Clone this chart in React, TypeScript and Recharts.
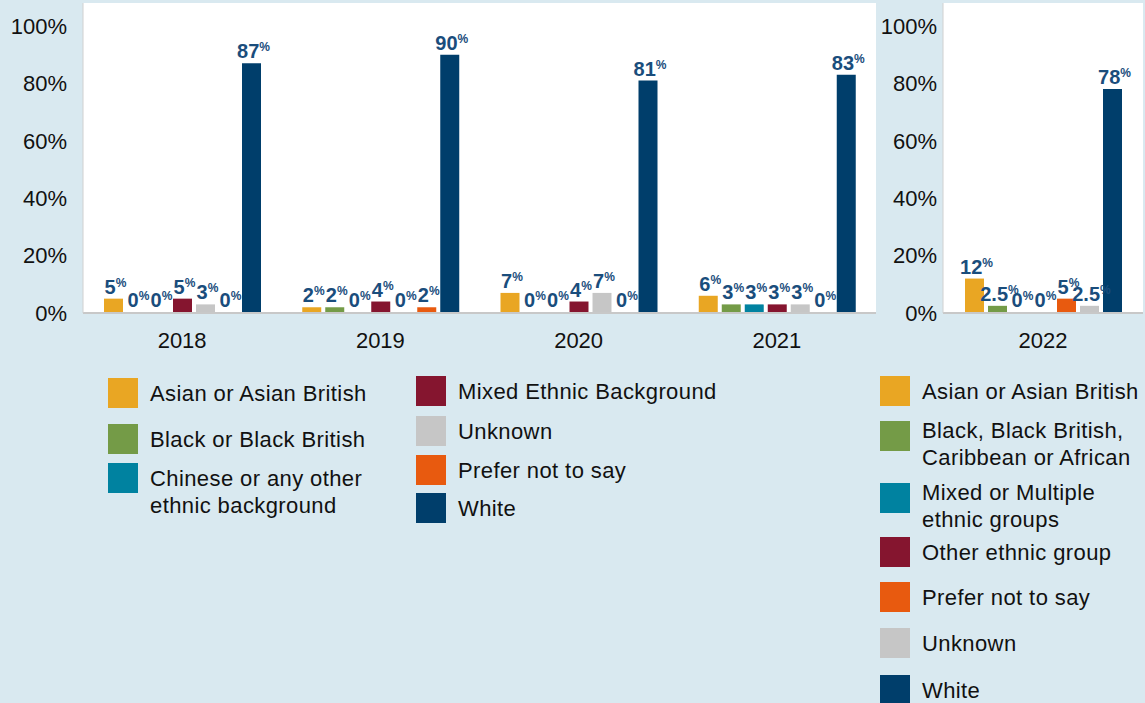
import { BarChart, Bar, XAxis, YAxis, CartesianGrid, LabelList } from 'recharts'

// 2018–2021 survey (old categories)
const YEARS = ['2018', '2019', '2020', '2021']
const ASIAN = [5, 2, 7, 6]
const BLACK = [0, 2, 0, 3]
const CHINESE = [0, 0, 0, 3]
const MIXED = [5, 4, 4, 3]
const UNKNOWN = [3, 0, 7, 3]
const PREFER = [0, 2, 0, 0]
const WHITE = [87, 90, 81, 83]

// 2022 survey (new categories)
const YEARS_22 = ['2022']
const ASIAN_22 = [12]
const BLACK_22 = [2.5]
const MULTI_22 = [0]
const OTHER_22 = [0]
const PREFER_22 = [5]
const UNKNOWN_22 = [2.5]
const WHITE_22 = [78]

const Y_TICKS = [0, 20, 40, 60, 80, 100]

const LEFT_KEYS = ['asian', 'black', 'chinese', 'mixed', 'unknown', 'prefer', 'white']
const LEFT_NAMES = [
  'Asian or Asian British',
  'Black or Black British',
  'Chinese or any other ethnic background',
  'Mixed Ethnic Background',
  'Unknown',
  'Prefer not to say',
  'White',
]
const LEFT_COLORS = ['#E9A623', '#749B47', '#0082A0', '#85152F', '#C6C6C6', '#E85A0F', '#003E6B']

const RIGHT_KEYS = ['asian', 'black', 'multi', 'other', 'prefer', 'unknown', 'white']
const RIGHT_NAMES = [
  'Asian or Asian British',
  'Black, Black British, Caribbean or African',
  'Mixed or Multiple ethnic groups',
  'Other ethnic group',
  'Prefer not to say',
  'Unknown',
  'White',
]
const RIGHT_COLORS = ['#E9A623', '#749B47', '#0082A0', '#85152F', '#E85A0F', '#C6C6C6', '#003E6B']

const leftData = YEARS.map((year, i) => ({
  year,
  asian: ASIAN[i],
  black: BLACK[i],
  chinese: CHINESE[i],
  mixed: MIXED[i],
  unknown: UNKNOWN[i],
  prefer: PREFER[i],
  white: WHITE[i],
}))

const rightData = YEARS_22.map((year, i) => ({
  year,
  asian: ASIAN_22[i],
  black: BLACK_22[i],
  multi: MULTI_22[i],
  other: OTHER_22[i],
  prefer: PREFER_22[i],
  unknown: UNKNOWN_22[i],
  white: WHITE_22[i],
}))

const BG = '#D9E9F0'
const LABEL_COLOR = '#1A4D7C'
const FONT = '"Liberation Sans", Arial, Helvetica, sans-serif'

function ValueLabel(props: any) {
  const { x, y, width, value } = props
  if (value === undefined || value === null) return null
  return (
    <text
      x={Number(x) + Number(width) / 2 + 2}
      y={Number(y) - 5}
      textAnchor="middle"
      fill={LABEL_COLOR}
      fontWeight="bold"
    >
      <tspan fontSize={20}>{value}</tspan>
      <tspan fontSize={12} dy={-7}>%</tspan>
    </text>
  )
}

function Chart({ data, keys, colors, width, gap }: any) {
  return (
    <BarChart
      width={width}
      height={360}
      data={data}
      margin={{ top: 3, right: 2, left: 0, bottom: 0 }}
      barCategoryGap={gap}
      barGap={4}
    >
      <CartesianGrid horizontal={false} vertical={false} fill="#ffffff" />
      <XAxis
        dataKey="year"
        height={47}
        tickLine={false}
        axisLine={{ stroke: '#C8C8C8', strokeWidth: 2 }}
        tickMargin={13}
        tick={{ fill: '#111', fontSize: 22 }}
      />
      <YAxis
        type="number"
        domain={[0, 108]}
        ticks={Y_TICKS}
        width={83}
        tickLine={false}
        axisLine={{ stroke: '#D0D0D0' }}
        tickMargin={width > 500 ? 10 : 0}
        tickFormatter={(v: number) => `${v}%`}
        tick={{ fill: '#111', fontSize: 22 }}
      />
      {keys.map((k: string, i: number) => (
        <Bar key={k} dataKey={k} fill={colors[i]} minPointSize={1} isAnimationActive={false}>
          <LabelList dataKey={k} content={ValueLabel} />
        </Bar>
      ))}
    </BarChart>
  )
}

function LegendItem({ color, name, top, left, textWidth, shift = 0 }: any) {
  return (
    <div style={{ position: 'absolute', top, left, display: 'flex', alignItems: 'flex-start' }}>
      <div style={{ width: 30, height: 30, background: color, flex: 'none' }} />
      <div
        style={{
          marginLeft: 12,
          fontSize: 22,
          lineHeight: '27px',
          letterSpacing: '0.4px',
          marginTop: 2 + shift,
          color: '#111',
          width: textWidth,
        }}
      >
        {name}
      </div>
    </div>
  )
}

const LEFT_LEGEND_POS = [
  [378, 108],
  [424, 108],
  [463, 108],
  [376, 416],
  [416, 416],
  [455, 416],
  [493, 416],
]
const RIGHT_LEGEND_TOPS = [376, 421, 483, 537, 582, 628, 675]

export default function App() {
  return (
    <div
      style={{
        position: 'absolute',
        left: 0,
        top: 0,
        width: 1145,
        height: 703,
        background: BG,
        fontFamily: FONT,
        overflow: 'hidden',
      }}
    >
      <div style={{ position: 'absolute', left: 0, top: 0 }}>
        <Chart data={leftData} keys={LEFT_KEYS} colors={LEFT_COLORS} width={878} gap={21} />
      </div>
      <div style={{ position: 'absolute', left: 860, top: 0 }}>
        <Chart data={rightData} keys={RIGHT_KEYS} colors={RIGHT_COLORS} width={285} gap={22} />
      </div>
      {LEFT_NAMES.map((name, i) => (
        <LegendItem
          key={name}
          name={name}
          color={LEFT_COLORS[i]}
          top={LEFT_LEGEND_POS[i][0]}
          left={LEFT_LEGEND_POS[i][1]}
          textWidth={i === 2 ? 230 : 320}
        />
      ))}
      {RIGHT_NAMES.map((name, i) => (
        <LegendItem
          key={name}
          name={name}
          color={RIGHT_COLORS[i]}
          top={RIGHT_LEGEND_TOPS[i]}
          left={880}
          textWidth={225}
          shift={i === 1 || i === 2 ? -6 : 0}
        />
      ))}
    </div>
  )
}
